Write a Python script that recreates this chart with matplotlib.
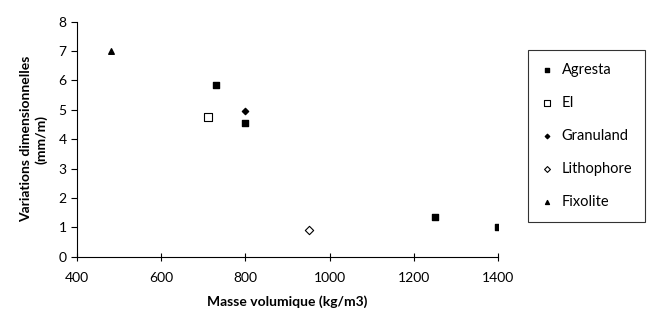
import matplotlib
matplotlib.use('Agg')
import matplotlib.pyplot as plt

# values
agresta_x = [730, 800, 1250, 1400]
agresta_y = [5.85, 4.55, 1.35, 1.0]
ei_x = [710]
ei_y = [4.75]
granuland_x = [800]
granuland_y = [4.95]
lithophore_x = [950]
lithophore_y = [0.9]
fixolite_x = [480]
fixolite_y = [7.0]

x_ticks = [400, 600, 800, 1000, 1200, 1400]
y_ticks = [0, 1, 2, 3, 4, 5, 6, 7, 8]

plt.rcParams['font.family'] = ['Lato', 'DejaVu Sans']

fig = plt.figure(figsize=(6.47, 3.09), dpi=100)
ax = fig.add_axes([0.119, 0.169, 0.651, 0.761])

ax.scatter(agresta_x, agresta_y, marker='s', s=22, c='black', label='Agresta')
ax.scatter(ei_x, ei_y, marker='s', s=30, facecolors='white', edgecolors='black', linewidths=0.8, label='EI')
ax.scatter(granuland_x, granuland_y, marker='D', s=10, c='black', label='Granuland')
ax.scatter(lithophore_x, lithophore_y, marker='D', s=18, facecolors='white', edgecolors='black', linewidths=0.8, label='Lithophore')
ax.scatter(fixolite_x, fixolite_y, marker='^', s=16, c='black', label='Fixolite')

ax.set_xlim(400, 1400)
ax.set_ylim(0, 8)
ax.set_xticks(x_ticks)
ax.set_yticks(y_ticks)
ax.spines['top'].set_visible(False)
ax.spines['right'].set_visible(False)
ax.tick_params(axis='x', direction='inout', length=6, labelsize=10, pad=8)
ax.tick_params(axis='y', direction='out', length=4, labelsize=10)

ax.set_xlabel('Masse volumique (kg/m3)', fontsize=10, fontweight='bold', labelpad=8)
ax.set_ylabel('Variations dimensionnelles\n(mm/m)', fontsize=10, fontweight='bold', labelpad=8)

leg = fig.legend(loc='upper left', bbox_to_anchor=(0.816, 0.838), frameon=True, fancybox=False,
                 edgecolor='black', fontsize=10.5, markerscale=0.7, handlelength=0.8,
                 handletextpad=0.6, labelspacing=1.3, borderpad=0.9, borderaxespad=0,
                 scatterpoints=1)
leg.get_frame().set_linewidth(0.8)

fig.savefig('out.png', dpi=100)
